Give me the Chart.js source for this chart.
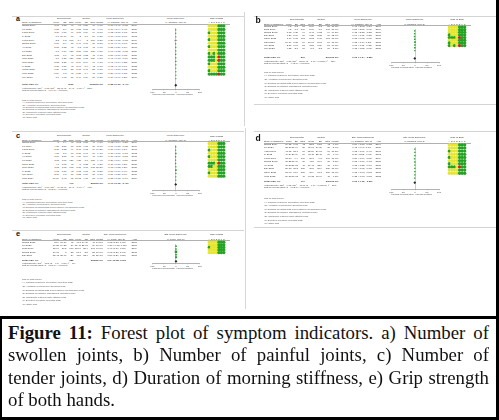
<!DOCTYPE html>
<html><head><meta charset="utf-8">
<script src="https://cdn.jsdelivr.net/npm/chart.js@4.4.1/dist/chart.umd.min.js"></script>
<style>
html,body{margin:0;padding:0;background:#fff;}
#root{position:relative;width:499px;height:420px;overflow:hidden;background:#fff;}
.t{position:absolute;white-space:nowrap;font-family:"Liberation Sans",Arial,sans-serif;color:#3a3a3a;line-height:1;}
.ln{position:absolute;}
canvas{position:absolute;}
.cap{position:absolute;left:8px;width:481px;font-family:"Liberation Serif","DejaVu Serif",serif;font-size:18.8px;line-height:22px;color:#111;text-align:justify;text-align-last:justify;}
</style></head><body><div id="root"></div>
<script>
// ---------------- DATA ----------------
const forestTicks = [-100, -50, 0, 50, 100];
const biasCols = ['A','B','C','D','E','F','G'];
const biasNotes = ["Risk of bias legend","(A) Random sequence generation (selection bias)","(B) Allocation concealment (selection bias)","(C) Blinding of participants and personnel (performance bias)","(D) Blinding of outcome assessment (detection bias)","(E) Incomplete outcome data (attrition bias)","(F) Selective reporting (reporting bias)","(G) Other bias"];

// a) Number of swollen joints
const aStudy = ["Zhang 2019","Lei 2020","Kang 2013","Li 2012","Kong 2019","Zhang 2018","Yu 2018","Liu 2020","Dai 2021","Wan 2021","Qiao 2021","Li 2022","Wang 2020","Wan 2022","Wei 2016"];
const aExp = [[3.73,1.58,40],[6.28,2.4,30],[3.36,6.81,99],[1.3,24.84,60],[2.2,1.8,100],[6.06,2.4,30],[5.65,1.58,45],[1.3,0.84,120],[3.05,1.6,45],[3.1,1.27,129],[5.28,2.26,90],[3.35,1.51,42],[6.29,1.78,55],[-0.54,1.8,45],[3.1,0.98,30]];
const aCtl = [[4.5,1.56,40],[7.05,2.18,30],[3.68,6.24,99],[2.0,3.7,60],[3.4,2.0,100],[6.46,1.71,30],[6.2,1.78,45],[2.27,1.86,120],[3.62,1.22,45],[3.51,1.38,129],[5.69,2.04,90],[3.97,1.9,42],[6.73,1.41,55],[-0.28,1.4,45],[3.49,1.24,30]];
const aWeight = ["6.6%","4.9%","2.0%","0.2%","8.2%","5.5%","6.7%","9.5%","7.3%","9.8%","7.7%","6.1%","7.8%","7.5%","7.2%"];
const aMD = [-0.77,-0.77,-0.32,-0.70,-1.20,-0.40,-0.55,-0.97,-0.57,-0.41,-0.41,-0.62,-0.44,-0.26,-0.39];
const aLo = [-1.46,-1.94,-2.37,-7.01,-1.72,-1.41,-1.29,-1.32,-1.16,-0.73,-1.04,-1.43,-1.00,-0.90,-0.99];
const aHi = [-0.08,0.40,1.73,5.61,-0.68,0.61,0.19,-0.62,0.02,-0.09,0.22,0.19,0.12,0.38,0.21];
const aTot = [-0.55,-0.69,-0.41];
const aTotN = [1060,1060];
const aBias = ["????+++","????+++","+???+++","????+++","+???+++","????+++","+???+++","????+++","+?+?+++","+++?-++","+++?-++","+???+++","????+++","+???+++","++++-++"];
const aHet = ["Heterogeneity: Tau\u00b2 = 0.05; Chi\u00b2 = 22.48, df = 14 (P = 0.07); I\u00b2 = 38%","Test for overall effect: Z = 7.64 (P < 0.00001)"];

// b) Number of painful joints
const bStudy = ["Zhang 2017","Ding 2016","Zhang 2018","Dai 2021","Chen 2021","Nan 2021","Wu 2022","Wei 2023"];
const bExp = [[4.2,3.2,53],[4.2,3.7,106],[6.65,1.35,64],[6.26,1.66,60],[1.79,1.08,113],[10.79,1.88,54],[2.87,1.17,57],[4.52,2.1,60]];
const bCtl = [[5.66,3.2,53],[5.76,3.3,106],[8.43,1.52,64],[7.25,2.28,60],[2.12,1.34,113],[11.17,2.13,54],[3.53,1.29,57],[5.3,2.2,60]];
const bWeight = ["10.8%","10.9%","14.2%","12.6%","16.6%","11.6%","14.8%","8.5%"];
const bMD = [-1.46,-1.56,-1.78,-0.99,-0.33,-0.38,-0.66,-0.78];
const bLo = [-2.68,-2.51,-2.28,-1.71,-0.65,-1.14,-1.11,-1.55];
const bHi = [-0.24,-0.61,-1.28,-0.27,-0.01,0.38,-0.21,-0.01];
const bTot = [-0.93,-1.34,-0.52];
const bTotN = [567,567];
const bBias = ["????+++","????+++","????+++","+???+++","+++?-++","????+++","+???+++","+?+?-++"];
const bHet = ["Heterogeneity: Tau\u00b2 = 0.26; Chi\u00b2 = 31.84, df = 7 (P < 0.0001); I\u00b2 = 78%","Test for overall effect: Z = 4.45 (P < 0.00001)"];

// c) Number of tender joints
const cStudy = ["Zhang 2019","Lei 2019","Kang 2013","Li 2012","Xu 2018","Liu 2020","Chen 2021","Qiao 2021","Li 2022","Wei 2016","Wan 2024"];
const cExp = [[3,1.4,40],[4.05,2.51,30],[2.15,1.52,99],[4.08,2.7,60],[3.06,2.57,45],[3.08,3.06,120],[4.7,3.08,45],[3.62,3.08,175],[1.62,1.51,42],[2.66,1.8,30],[10.54,3.48,65]];
const cCtl = [[3.92,1.51,40],[5.05,4.08,30],[2.45,1.72,99],[5.38,1.97,60],[4.36,2.14,45],[4.28,3.1,120],[5.0,3.22,45],[3.75,3.73,175],[1.72,1.63,42],[3.22,1.39,30],[11.12,4.15,65]];
const cWeight = ["9.1%","5.7%","14.2%","9.7%","7.2%","9.4%","7.2%","15.2%","8.2%","7.1%","6.9%"];
const cMD = [-0.92,-1.00,-0.30,-1.30,-1.30,-1.20,-0.30,-0.13,-0.10,-0.56,-0.58];
const cLo = [-1.64,-1.88,-0.84,-1.87,-2.07,-1.84,-0.86,-0.52,-0.69,-1.21,-1.12];
const cHi = [-0.20,-0.12,0.24,-0.73,-0.53,-0.56,0.26,0.26,0.49,0.09,-0.04];
const cTot = [-0.71,-0.96,-0.46];
const cTotN = [779,800];
const cBias = ["????+++","????+++","+???+++","????+++","+???+++","????+++","+++?-++","++??+++","????+++","+???+++","????+++"];
const cHet = ["Heterogeneity: Tau\u00b2 = 0.07; Chi\u00b2 = 19.12, df = 10 (P = 0.04); I\u00b2 = 48%","Test for overall effect: Z = 5.62 (P < 0.00001)"];

// d) Duration of morning stiffness
const dStudy = ["Zhang 2014","Lei 2020","Yang 2013","Li 2012","Kong 2019","Zhang 2018","Yu 2018","Dai 2021","Chen 2021","Wan 2022"];
const dExp = [[19.62,9.07,42],[28.36,31.14,30],[43.62,23.1,70],[46.54,20.09,60],[18.63,9.4,100],[30.22,17.34,30],[36.53,31.13,45],[26.18,15.2,120],[21.93,11.6,150],[29.38,10.62,45]];
const dCtl = [[28.8,11.8,42],[42.17,34.86,30],[62.24,24.13,70],[92.11,22.45,60],[26.3,9.8,100],[41.5,16.6,30],[61.43,32.6,45],[36.5,15.9,120],[30.9,11.3,150],[43.32,11.04,45]];
const dWeight = ["9.7%","8.7%","10.2%","9.4%","10.6%","8.5%","9.1%","10.6%","11.0%","9.2%"];
const dMD = [-0.84,-0.45,-0.78,-2.11,-0.80,-0.65,-0.78,-0.66,-0.78,-1.28];
const dLo = [-1.30,-0.97,-1.07,-2.55,-1.09,-1.17,-1.22,-1.02,-1.03,-1.73];
const dHi = [-0.38,0.07,-0.49,-1.67,-0.51,-0.13,-0.34,-0.30,-0.53,-0.83];
const dTot = [-0.90,-1.16,-0.63];
const dTotN = [704,660];
const dBias = ["????+++","????+++","+???+++","????+++","+???+++","????+++","+???+++","+++?-++","????+++","????+++"];
const dHet = ["Heterogeneity: Tau\u00b2 = 0.15; Chi\u00b2 = 48.06, df = 9 (P < 0.00001); I\u00b2 = 81%","Test for overall effect: Z = 6.62 (P < 0.00001)"];

// e) Grip strength of both hands
const eStudy = ["Zhang 2021","Liu 2021","Tong 2019","Zhang 2018","Dai 2021"];
const eExp = [[51.9,18.19,45],[69.28,19.58,39],[184.6,30.2,100],[19.01,3.0,58],[62.42,25.96,84]];
const eCtl = [[41.7,14.36,45],[61.48,21.17,39],[170.6,28.4,101],[17.1,2.8,58],[48.5,22.4,80]];
const eWeight = ["14.5%","11.6%","34.6%","17.6%","21.7%"];
const eMD = [0.62,0.37,0.47,0.65,0.57];
const eLo = [0.20,-0.08,0.19,0.27,0.29];
const eHi = [1.05,0.82,0.75,1.03,0.85];
const eTot = [0.54,0.38,0.69];
const eTotN = [326,323];
const eBias = ["????+++","????+++","+???+++","????+++","????+++"];
const eHet = ["Heterogeneity: Chi\u00b2 = 1.12, df = 4 (P = 0.89); I\u00b2 = 0%","Test for overall effect: Z = 6.80 (P < 0.00001)"];

// ---------------- LAYOUT / DRAWING ----------------
Chart.defaults.font.family = '"Liberation Sans", Arial, sans-serif';
const root = document.getElementById('root');
const ROB = {'+':'#22a322','?':'#e6e630','-':'#d81e1e'};

function el(cls, css, html){ const d=document.createElement('div'); d.className=cls; Object.assign(d.style, css); if(html!=null) d.innerHTML=html; root.appendChild(d); return d; }
function txt(x,y,s,o={}){
  const size=o.size||2.5;
  const d=el('t',{left:x+'px',top:(y-size*0.55)+'px',fontSize:size+'px',fontWeight:o.bold?'bold':'normal'}, s);
  if(o.align==='right') d.style.transform='translateX(-100%)';
  else if(o.align==='center') d.style.transform='translateX(-50%)';
  if(o.color) d.style.color=o.color;
  return d;
}
function hline(x1,x2,y,w,c){ el('ln',{left:x1+'px',top:y+'px',width:(x2-x1)+'px',height:w+'px',background:c}); }
function vline(x,y1,y2,w,c){ el('ln',{left:x+'px',top:y1+'px',width:w+'px',height:(y2-y1)+'px',background:c}); }
function f2(v){ return v.toFixed(2); }

const L = {name:22, nums:[59,66.5,73.5,81,88,95,103], ci:107.5, year:137, expC:64, ctlC:86, mdC:115};
const R = {name:264, nums:[291.5,298,305,314,322,330,338.5], ci:351.5, year:381, expC:297, ctlC:321, mdC:363};

function forest(P, md, lo, hi, tot, weights){
  const pad=6, axisH=7;
  const cv=document.createElement('canvas');
  const plotW=P.plotR-P.plotL;
  const W=Math.round(plotW+2*pad), top=P.ul, H=Math.round(P.axisY-top+axisH);
  cv.width=W; cv.height=H;
  Object.assign(cv.style,{left:(P.plotL-pad)+'px',top:top+'px',width:W+'px',height:H+'px'});
  root.appendChild(cv);
  const yMin=(top-P.rowStart)/P.rowStep, yMax=(P.axisY-P.rowStart)/P.rowStep;
  const totIdx=(P.totY-P.rowStart)/P.rowStep;
  const ci=[]; md.forEach((m,i)=>{ ci.push({x:lo[i],y:i},{x:hi[i],y:i},{x:0,y:null}); });
  new Chart(cv,{
    type:'scatter',
    data:{datasets:[
      {data:md.map((m,i)=>({x:m,y:i})), pointStyle:'rect', pointRadius:weights.map(w=>0.6+parseFloat(w)/30), backgroundColor:'#23a023', borderWidth:0, clip:false, order:0},
      {data:[{x:tot[0],y:totIdx}], pointStyle:'rectRot', pointRadius:1.4, backgroundColor:'#222', borderWidth:0, clip:false, order:0},
      {data:ci, showLine:true, spanGaps:false, borderColor:'#555', borderWidth:0.5, pointRadius:0, clip:false, order:1},
      {data:[{x:tot[1],y:totIdx},{x:tot[2],y:totIdx}], showLine:true, borderColor:'#222', borderWidth:0.7, pointRadius:0, clip:false, order:1}
    ]},
    options:{
      responsive:false, animation:false, devicePixelRatio:1, events:[],
      layout:{padding:{left:pad,right:W-pad-plotW,top:0,bottom:0}},
      plugins:{legend:{display:false},tooltip:{enabled:false}},
      scales:{
        x:{type:'linear',min:-100,max:100,position:'bottom',
           afterBuildTicks:s=>{ s.ticks=forestTicks.map(v=>({value:v})); },
           afterFit:s=>{ s.height=axisH; },
           ticks:{font:{size:2.5},padding:0.4,color:'#444',autoSkip:false,maxRotation:0,callback:v=>String(v)},
           grid:{color:c=>(c.tick&&c.tick.value===0)?'#999':'rgba(0,0,0,0)',lineWidth:0.5,tickLength:1.2,tickColor:'#666',drawTicks:true},
           border:{display:true,color:'#666',width:0.5}},
        y:{type:'linear',min:yMin,max:yMax,reverse:true,display:false}
      }
    }
  });
}

function rob(P, bias){
  const n=bias.length;
  const top=P.h1-2, chartTop=P.rowStart-0.55*P.rowStep, bottom=P.rowStart+(n-0.45)*P.rowStep;
  const W=Math.round(P.gridR-P.gridL), H=Math.round(bottom-top);
  const cv=document.createElement('canvas');
  cv.width=W; cv.height=H;
  Object.assign(cv.style,{left:P.gridL+'px',top:top+'px',width:W+'px',height:H+'px'});
  root.appendChild(cv);
  const pts=[], cols=[];
  bias.forEach((row,r)=>{ row.split('').forEach((ch,c)=>{ pts.push({x:c,y:r}); cols.push(ROB[ch]); }); });
  new Chart(cv,{
    type:'scatter',
    data:{datasets:[{data:pts, backgroundColor:cols, pointRadius:1.65, pointStyle:'circle', borderWidth:0, clip:false}]},
    options:{
      responsive:false, animation:false, devicePixelRatio:1, events:[],
      layout:{padding:0},
      plugins:{legend:{display:false},tooltip:{enabled:false}},
      scales:{
        x:{type:'linear',position:'top',min:-0.5,max:6.5,
           afterBuildTicks:s=>{ s.ticks=biasCols.map((c,i)=>({value:i})); },
           afterFit:s=>{ s.height=chartTop-top; },
           ticks:{font:{size:2.3},padding:0.2,color:'#444',autoSkip:false,maxRotation:0,callback:v=>biasCols[v]},
           grid:{display:false,drawTicks:false}, border:{display:false},
           title:{display:true,text:'Risk of Bias',font:{size:2.5},padding:0,color:'#333'}},
        y:{type:'linear',min:-0.55,max:n-0.45,reverse:true,display:false}
      }
    }
  });
}

function panel(P, C, letter, study, exp, ctl, weight, md, lo, hi, tot, totN, bias, het, method, mdName){
  hline(P.x0, P.x1, P.lineY, 1, '#d4d4d4');
  txt(P.label[0], P.label[1], letter, {size:P.labelSize||7.5, bold:true, color:'#111'});
  const zero=(P.plotL+P.plotR)/2;
  const hc='#333';
  txt(C.expC, P.h1, 'Experimental', {align:'center', size:2.4, color:hc});
  txt(C.ctlC, P.h1, 'Control', {align:'center', size:2.4, color:hc});
  txt(C.mdC, P.h1, mdName, {align:'center', size:2.4, color:hc});
  txt(zero, P.h1, mdName, {align:'center', size:2.4, color:hc});
  txt(C.name, P.h2, 'Study or Subgroup', {size:2.3, color:hc});
  ['Mean','SD','Total','Mean','SD','Total','Weight'].forEach((h,i)=>txt(C.nums[i], P.h2, h, {align:'right', size:2.3, color:hc}));
  txt(C.ci, P.h2, method, {size:2.3, color:hc});
  txt(C.year, P.h2, 'Year', {align:'right', size:2.3, color:hc});
  txt(zero, P.h2, method, {align:'center', size:2.3, color:hc});
  hline(C.name, P.gridR+1, P.ul, 1, '#b0b0b0');
  study.forEach((s,i)=>{
    const y=P.rowStart+i*P.rowStep;
    const parts=s.split(' ');
    txt(C.name, y, s);
    const vals=[exp[i][0],exp[i][1],exp[i][2],ctl[i][0],ctl[i][1],ctl[i][2]];
    vals.forEach((v,j)=>txt(C.nums[j], y, String(v), {align:'right'}));
    txt(C.nums[6], y, weight[i], {align:'right'});
    txt(C.ci, y, f2(md[i])+' ['+f2(lo[i])+', '+f2(hi[i])+']');
    txt(C.year, y, parts[parts.length-1], {align:'right'});
  });
  txt(C.name, P.totY, 'Total (95% CI)', {bold:true});
  txt(C.nums[2], P.totY, String(totN[0]), {align:'right', bold:true});
  txt(C.nums[5], P.totY, String(totN[1]), {align:'right', bold:true});
  txt(C.nums[6], P.totY, '100.0%', {align:'right', bold:true});
  txt(C.ci, P.totY, f2(tot[0])+' ['+f2(tot[1])+', '+f2(tot[2])+']', {bold:true});
  txt(C.name, P.hetY, het[0], {size:2.3});
  txt(C.name, P.testY, het[1], {size:2.3});
  txt(zero-1, P.axisY+5.3, 'Favours [experimental]', {align:'right', size:2.2});
  txt(zero+1, P.axisY+5.3, 'Favours [control]', {size:2.2});
  biasNotes.forEach((s,i)=>txt(C.name+(i?0.3:0), P.notesY+i*P.notesStep, s, {size:2.3, color:'#555'}));
  forest(P, md, lo, hi, tot, weight);
  rob(P, bias);
}

const PA={x0:12,x1:244,lineY:16,label:[16,18.5],labelSize:7,h1:19.2,h2:22.7,ul:24.3,rowStart:26.3,rowStep:3.7,totY:85,hetY:87.8,testY:90.2,plotL:151.7,plotR:199.5,axisY:89,gridL:204,gridR:229,notesY:100,notesStep:2.4};
const PB={x0:254,x1:497,lineY:16,label:[255.5,21],labelSize:8.5,h1:20,h2:23.8,ul:25.2,rowStart:27.3,rowStep:3.14,totY:58,hetY:61,testY:63.3,plotL:390.5,plotR:438.5,axisY:62,gridL:444,gridR:469.5,notesY:72,notesStep:3.6};
const PC={x0:12,x1:244,lineY:131,label:[16,136.5],labelSize:7.5,h1:136.6,h2:140,ul:141.3,rowStart:143.3,rowStep:3.6,totY:184,hetY:187,testY:189.2,plotL:151.7,plotR:199.5,axisY:190,gridL:204,gridR:229,notesY:199.5,notesStep:2.6};
const PD={x0:254,x1:497,lineY:131,label:[255.5,139],labelSize:8.5,h1:138,h2:141.3,ul:142.6,rowStart:145,rowStep:3.55,totY:182,hetY:185,testY:187.3,plotL:390.5,plotR:438.5,axisY:189,gridL:444,gridR:469.5,notesY:198.5,notesStep:3.55};
const PE={x0:12,x1:244,lineY:230,label:[16,234],labelSize:7.5,h1:235.4,h2:239,ul:240.3,rowStart:243,rowStep:3.3,totY:261,hetY:263.4,testY:265.5,plotL:151.7,plotR:199.5,axisY:263,gridL:204,gridR:229,notesY:279,notesStep:3.6};

panel(PA, L, 'a', aStudy, aExp, aCtl, aWeight, aMD, aLo, aHi, aTot, aTotN, aBias, aHet, 'IV, Random, 95% CI', 'Mean Difference');
panel(PB, R, 'b', bStudy, bExp, bCtl, bWeight, bMD, bLo, bHi, bTot, bTotN, bBias, bHet, 'IV, Random, 95% CI', 'Mean Difference');
panel(PC, L, 'c', cStudy, cExp, cCtl, cWeight, cMD, cLo, cHi, cTot, cTotN, cBias, cHet, 'IV, Random, 95% CI', 'Mean Difference');
panel(PD, R, 'd', dStudy, dExp, dCtl, dWeight, dMD, dLo, dHi, dTot, dTotN, dBias, dHet, 'IV, Random, 95% CI', 'Std. Mean Difference');
panel(PE, L, 'e', eStudy, eExp, eCtl, eWeight, eMD, eLo, eHi, eTot, eTotN, eBias, eHet, 'IV, Fixed, 95% CI', 'Std. Mean Difference');

hline(254,497,104,1,'#d4d4d4');
hline(254,497,227,1,'#d4d4d4');
vline(244,12,126,1,'#d6d6d6');
vline(245,128,309,1,'#d6d6d6');

// frame
hline(0,499,316,2.5,'#000');
vline(0,316,420,1.5,'#000');
vline(496,0,420,3,'#000');
hline(0,499,417,3,'#000');

// caption
const capLines = ['<b>Figure 11:</b> Forest plot of symptom indicators. a) Number of','swollen joints, b) Number of painful joints, c) Number of','tender joints, d) Duration of morning stiffness, e) Grip strength','of both hands.'];
const capBase = [339, 361.5, 384, 406];
capLines.forEach((s,i)=>{ const d=el('cap',{top:(capBase[i]-17.2)+'px'}, s); if(i===capLines.length-1) d.style.textAlignLast='left'; });
</script></body></html>
